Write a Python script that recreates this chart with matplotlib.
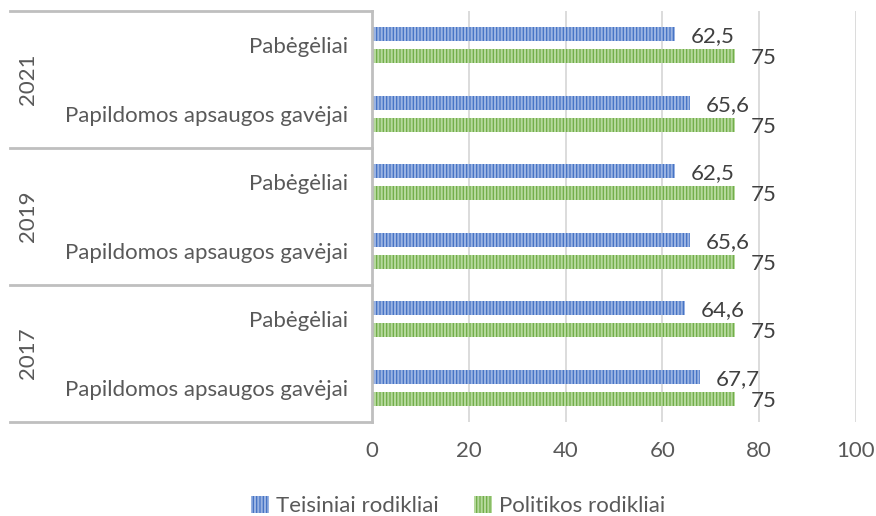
import numpy as np
import matplotlib
matplotlib.use("Agg")
import matplotlib.pyplot as plt
from matplotlib.patches import Patch
import matplotlib.transforms as mtransforms

plt.rcParams['font.family'] = ['Lato', 'DejaVu Sans']
plt.rcParams['hatch.linewidth'] = 1.5

# data (top to bottom)
years = ["2021", "2019", "2017"]
categories = ["Pabėgėliai", "Papildomos apsaugos gavėjai"] * 3
teisiniai = [62.5, 65.6, 62.5, 65.6, 64.6, 67.7]
politikos = [75, 75, 75, 75, 75, 75]
xticks = [0, 20, 40, 60, 80, 100]

txt = "#595959"
fs = 16
blue, blue_h = "#4472C4", "#9AB3E2"
green, green_h = "#70AD47", "#B5D89C"
hatch = "|||||"

fig = plt.figure(figsize=(8.76, 5.16), dpi=100)
ax = fig.add_axes([372/876, 94/516, 484/876, 411/516])

y = np.arange(len(categories))
h = 0.205
off = 0.16

b1 = ax.barh(y - off, teisiniai, height=h, color=blue, edgecolor=blue_h,
             hatch=hatch, linewidth=0)
b2 = ax.barh(y + off, politikos, height=h, color=green, edgecolor=green_h,
             hatch=hatch, linewidth=0)

for bars, vals in ((b1, teisiniai), (b2, politikos)):
    for r, v in zip(bars, vals):
        s = ("%g" % v).replace(".", ",")
        ax.annotate(s, (r.get_width(), r.get_y() + r.get_height()/2),
                    xytext=(16, -2), textcoords="offset pixels",
                    ha="left", va="center", fontsize=fs, color="#404040")

ax.set_xlim(0, 100)
ax.set_ylim(5.5, -0.5)
ax.set_xticks(xticks)
ax.set_xticklabels([str(t) for t in xticks], fontsize=fs, color=txt)
ax.set_yticks(y)
ax.set_yticklabels(categories, fontsize=fs, color=txt)
ax.tick_params(axis="y", length=0, pad=17)
ax.tick_params(axis="x", length=0, pad=14)
ax.grid(axis="x", color="#D9D9D9", linewidth=1.3)
ax.set_axisbelow(True)
for s in ["top", "right", "bottom"]:
    ax.spines[s].set_visible(False)
ax.spines["left"].set_color("#BFBFBF")
ax.spines["left"].set_linewidth(2)

# category tree on the left
tr = mtransforms.blended_transform_factory(ax.transAxes, ax.transData)
x0 = (10 - 372) / 484
for yb in [-0.5, 1.5, 3.5, 5.5]:
    ax.plot([x0, 0], [yb, yb], transform=tr, clip_on=False,
            color="#BFBFBF", linewidth=2)
for i, yr in enumerate(years):
    ax.text((28 - 372) / 484, 2*i + 0.5, yr, transform=tr, rotation=90,
            ha="center", va="center", fontsize=fs, color=txt)

handles = [Patch(facecolor=blue, edgecolor=blue_h, hatch=hatch, linewidth=0,
                 label="Teisiniai rodikliai"),
           Patch(facecolor=green, edgecolor=green_h, hatch=hatch, linewidth=0,
                 label="Politikos rodikliai")]
fig.legend(handles=handles, loc="center", bbox_to_anchor=(0.523, 0.02),
           ncol=2, frameon=False, fontsize=fs, labelcolor=txt, borderpad=0,
           handlelength=0.8, handleheight=0.8, handletextpad=0.3, columnspacing=1.6)

fig.savefig("out.png", dpi=100)
